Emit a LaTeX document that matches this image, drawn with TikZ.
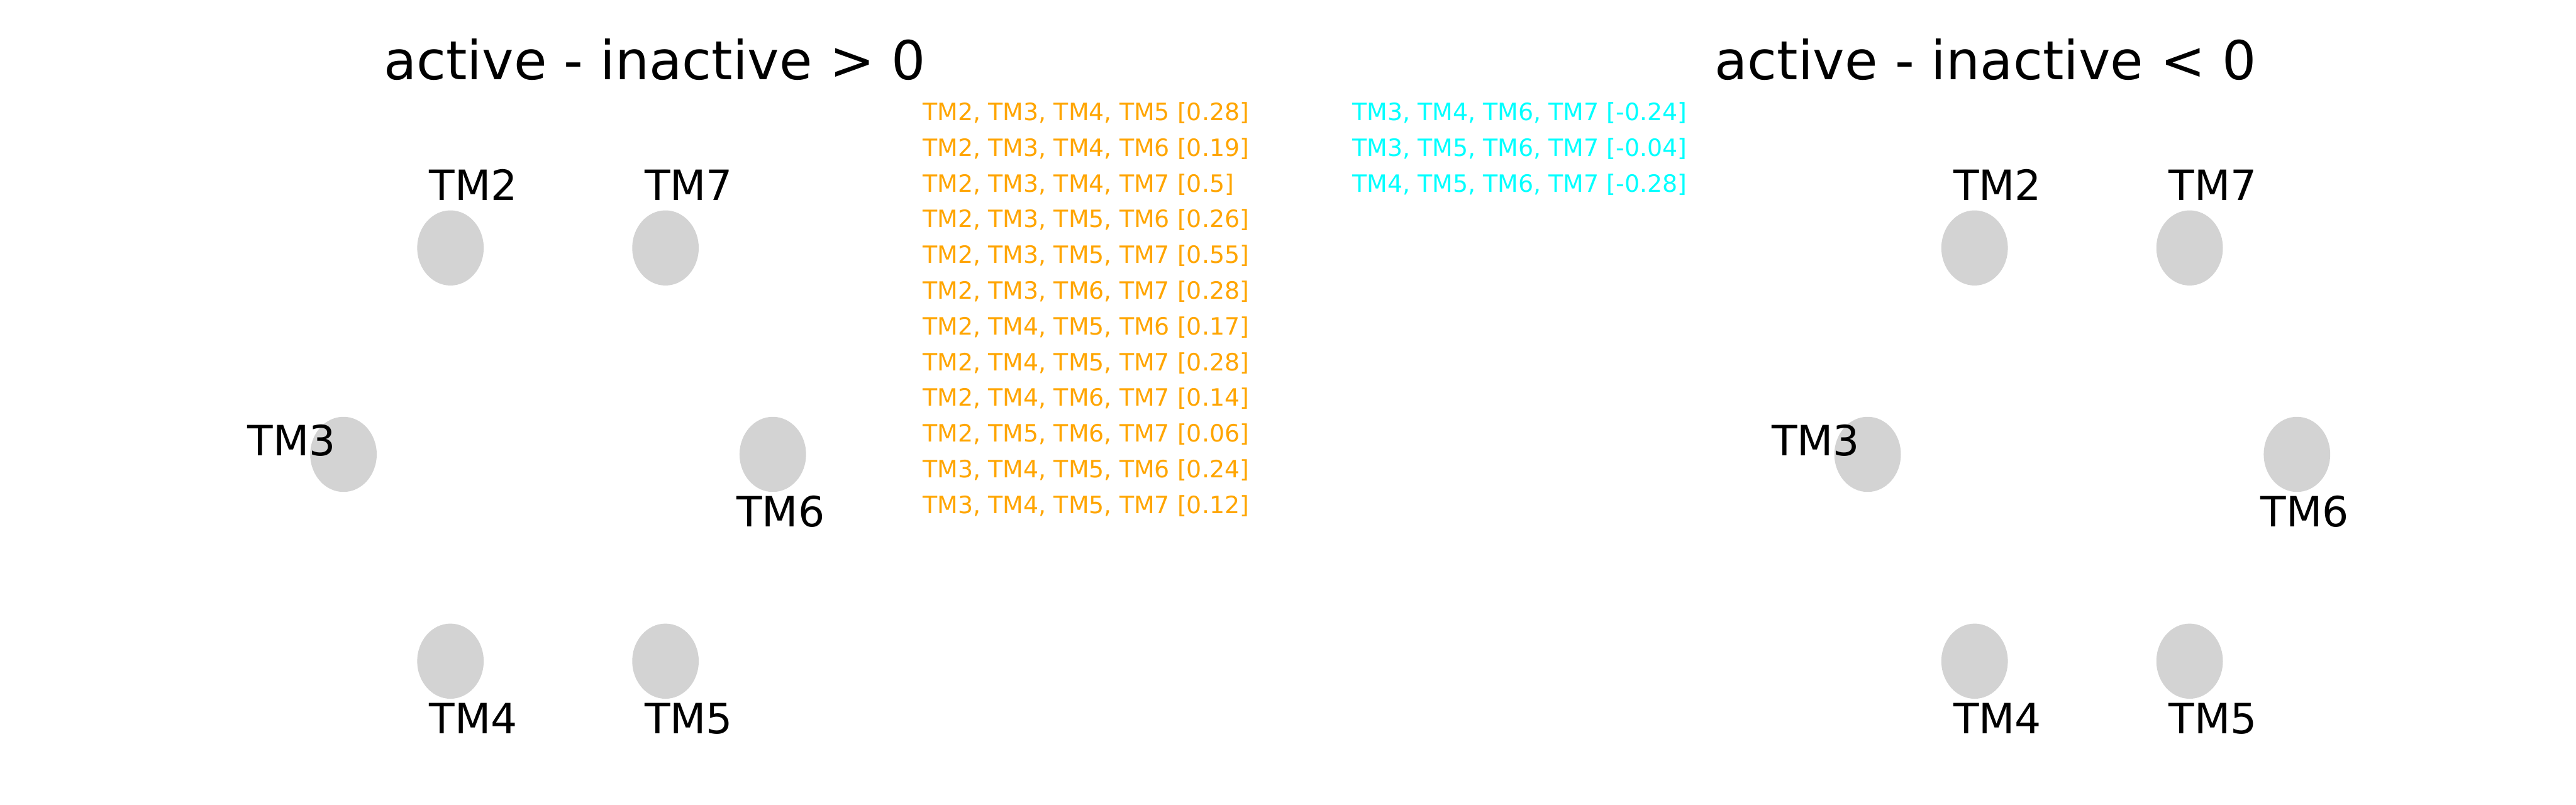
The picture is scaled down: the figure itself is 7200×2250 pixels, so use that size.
\documentclass[tikz,border=0pt]{standalone}
\usepackage{fontspec}
\setmainfont{DejaVu Sans}
\usetikzlibrary{shapes.geometric}
\definecolor{tmgray}{HTML}{D3D3D3}
\definecolor{posc}{HTML}{FFA500}
\definecolor{negc}{HTML}{00FFFF}
\tikzset{
  tmnode/.style={ellipse, fill=tmgray, draw=none, inner sep=0pt, minimum width=44.6pt, minimum height=50.4pt},
  tmlabel/.style={anchor=base, inner sep=0pt, font=\fontsize{28}{34}\selectfont},
  paneltitle/.style={anchor=base, inner sep=0pt, font=\fontsize{36}{43}\selectfont},
  posline/.style={anchor=base west, inner sep=0pt, text=posc, font=\fontsize{16}{19}\selectfont},
  negline/.style={anchor=base west, inner sep=0pt, text=negc, font=\fontsize{16}{19}\selectfont}
}
\begin{document}
\begin{tikzpicture}[x={(0.24pt,0pt)}, y={(0pt,-0.24pt)}]
\useasboundingbox (0,0) rectangle (7200,2250);
% titles
\node[paneltitle] (t1) at (1830,222) {active - inactive > 0};
\node[paneltitle] (t2) at (5550,222) {active - inactive < 0};
% left panel
\node[tmnode] (a2) at (1259,693) {};
\node[tmnode] (a7) at (1860,693) {};
\node[tmnode] (a3) at (960,1270) {};
\node[tmnode] (a6) at (2160,1270) {};
\node[tmnode] (a4) at (1259,1848) {};
\node[tmnode] (a5) at (1860,1848) {};
\node[tmlabel] (la2) at (1323,560) {TM2};
\node[tmlabel] (la7) at (1925,560) {TM7};
\node[tmlabel] (la3) at (815,1273) {TM3};
\node[tmlabel] (la6) at (2182,1472) {TM6};
\node[tmlabel] (la4) at (1323,2050) {TM4};
\node[tmlabel] (la5) at (1925,2050) {TM5};
% right panel
\node[tmnode] (b2) at (5519,693) {};
\node[tmnode] (b7) at (6120,693) {};
\node[tmnode] (b3) at (5220,1270) {};
\node[tmnode] (b6) at (6420,1270) {};
\node[tmnode] (b4) at (5519,1848) {};
\node[tmnode] (b5) at (6120,1848) {};
\node[tmlabel] (lb2) at (5583,560) {TM2};
\node[tmlabel] (lb7) at (6185,560) {TM7};
\node[tmlabel] (lb3) at (5075,1273) {TM3};
\node[tmlabel] (lb6) at (6442,1472) {TM6};
\node[tmlabel] (lb4) at (5583,2050) {TM4};
\node[tmlabel] (lb5) at (6185,2050) {TM5};
% positive list
\node[posline] (p1) at (2579,337) {TM2, TM3, TM4, TM5 [0.28]};
\node[posline] (p2) at (2579,437) {TM2, TM3, TM4, TM6 [0.19]};
\node[posline] (p3) at (2579,537) {TM2, TM3, TM4, TM7 [0.5]};
\node[posline] (p4) at (2579,636) {TM2, TM3, TM5, TM6 [0.26]};
\node[posline] (p5) at (2579,736) {TM2, TM3, TM5, TM7 [0.55]};
\node[posline] (p6) at (2579,836) {TM2, TM3, TM6, TM7 [0.28]};
\node[posline] (p7) at (2579,936) {TM2, TM4, TM5, TM6 [0.17]};
\node[posline] (p8) at (2579,1036) {TM2, TM4, TM5, TM7 [0.28]};
\node[posline] (p9) at (2579,1135) {TM2, TM4, TM6, TM7 [0.14]};
\node[posline] (p10) at (2579,1235) {TM2, TM5, TM6, TM7 [0.06]};
\node[posline] (p11) at (2579,1335) {TM3, TM4, TM5, TM6 [0.24]};
\node[posline] (p12) at (2579,1435) {TM3, TM4, TM5, TM7 [0.12]};
% negative list
\node[negline] (n1) at (3779,337) {TM3, TM4, TM6, TM7 [-0.24]};
\node[negline] (n2) at (3779,437) {TM3, TM5, TM6, TM7 [-0.04]};
\node[negline] (n3) at (3779,537) {TM4, TM5, TM6, TM7 [-0.28]};
\end{tikzpicture}
\end{document}
